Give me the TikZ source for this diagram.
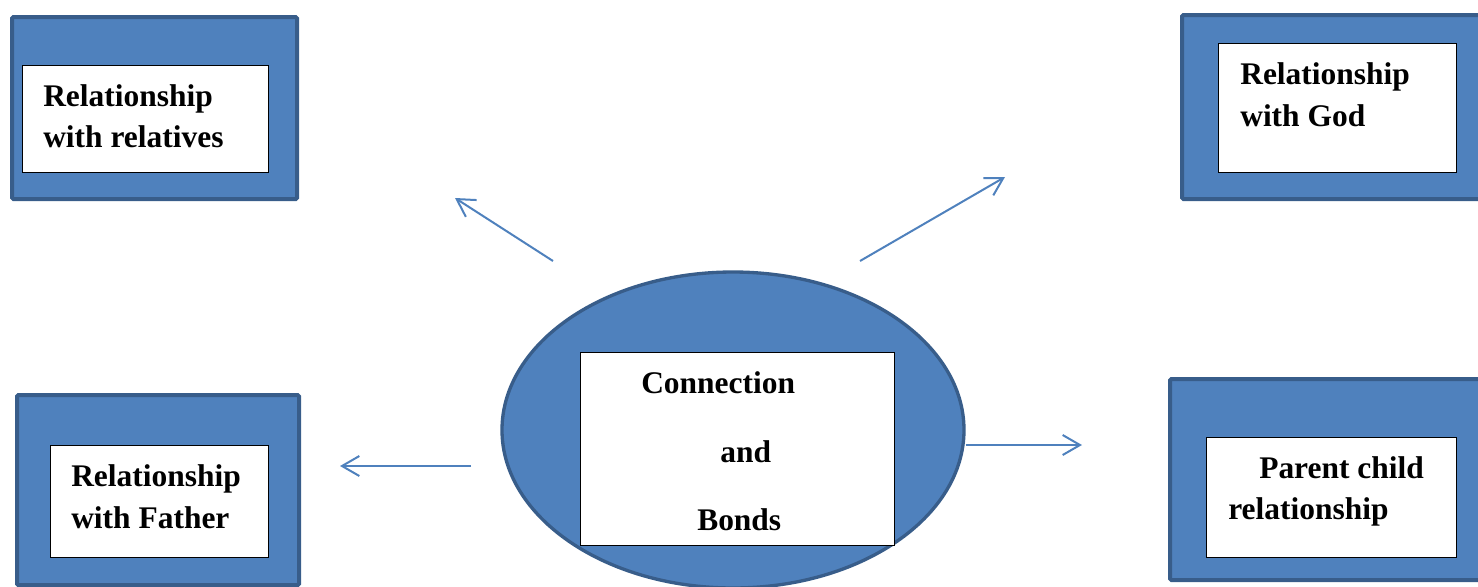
\documentclass[tikz,border=0pt]{standalone}
\usepackage{fontspec}
\setmainfont{Liberation Serif}
\usetikzlibrary{arrows.meta,shapes.geometric}
\definecolor{boxblue}{HTML}{4F81BD}
\definecolor{edgeblue}{HTML}{385D8A}
\tikzset{
  outerbox/.style={rectangle, draw=edgeblue, fill=boxblue, line width=3pt, rounded corners=1pt, anchor=north west, inner sep=0pt},
  innerbox/.style={rectangle, draw=black, fill=white, line width=0.8pt, anchor=north west, inner sep=0pt},
  hub/.style={ellipse, draw=edgeblue, fill=boxblue, line width=2.5pt, inner sep=0pt},
  label/.style={anchor=base west, inner sep=0pt, font=\bfseries\fontsize{23.6}{30}\selectfont},
  link/.style={draw=boxblue, line width=1.5pt, -{Straight Barb[length=13pt,width=15pt,line width=1.5pt]}}
}
\begin{document}
\begin{tikzpicture}[x=0.75pt,y=-0.75pt]
\useasboundingbox (0,0) rectangle (1478,586);
\clip (0,0) rectangle (1478,586);
% central ellipse
\node[hub, minimum width=462*0.75pt, minimum height=316*0.75pt] (hubshape) at (733,430) {};
\node[innerbox, minimum width=314*0.75pt, minimum height=193*0.75pt] (hubtext) at (580,352) {};
\node[label] (c1) at (641,393) {Connection};
\node[label] (c2) at (720,462) {and};
\node[label] (c3) at (697,530) {Bonds};

% top left: relatives
\node[outerbox, minimum width=285*0.75pt, minimum height=182*0.75pt] (relout) at (10,15) {};
\node[innerbox, minimum width=246*0.75pt, minimum height=107*0.75pt] (relin) at (22,65) {};
\node[label] (r1) at (43,106) {Relationship};
\node[label] (r2) at (43,147) {with relatives};

% top right: God
\node[outerbox, minimum width=310*0.75pt, minimum height=184*0.75pt] (godout) at (1180,13) {};
\node[innerbox, minimum width=238*0.75pt, minimum height=129*0.75pt] (godin) at (1218,43) {};
\node[label] (g1) at (1240,84) {Relationship};
\node[label] (g2) at (1240,126) {with God};

% bottom left: Father
\node[outerbox, minimum width=282*0.75pt, minimum height=190*0.75pt] (fatout) at (15,393) {};
\node[innerbox, minimum width=218*0.75pt, minimum height=112*0.75pt] (fatin) at (50,445) {};
\node[label] (f1) at (71,486) {Relationship};
\node[label] (f2) at (71,528) {with Father};

% bottom right: parent child
\node[outerbox, minimum width=322*0.75pt, minimum height=201*0.75pt] (parout) at (1168,377) {};
\node[innerbox, minimum width=250*0.75pt, minimum height=120*0.75pt] (parin) at (1206,437) {};
\node[label] (p1) at (1259,478) {Parent child};
\node[label] (p2) at (1228,519) {relationship};

% connector end points
\coordinate (aRelS) at (553,261);
\coordinate (aRelE) at (455,198);
\coordinate (aGodS) at (860,261);
\coordinate (aGodE) at (1005,177);
\coordinate (aFatS) at (471,466);
\coordinate (aFatE) at (340,466);
\coordinate (aParS) at (hubshape.east |- 0,445);
\coordinate (aParE) at (1082,445);

\draw[link] (aRelS) -- (aRelE);
\draw[link] (aGodS) -- (aGodE);
\draw[link] (aFatS) -- (aFatE);
\draw[link] (aParS) -- (aParE);
\end{tikzpicture}
\end{document}
